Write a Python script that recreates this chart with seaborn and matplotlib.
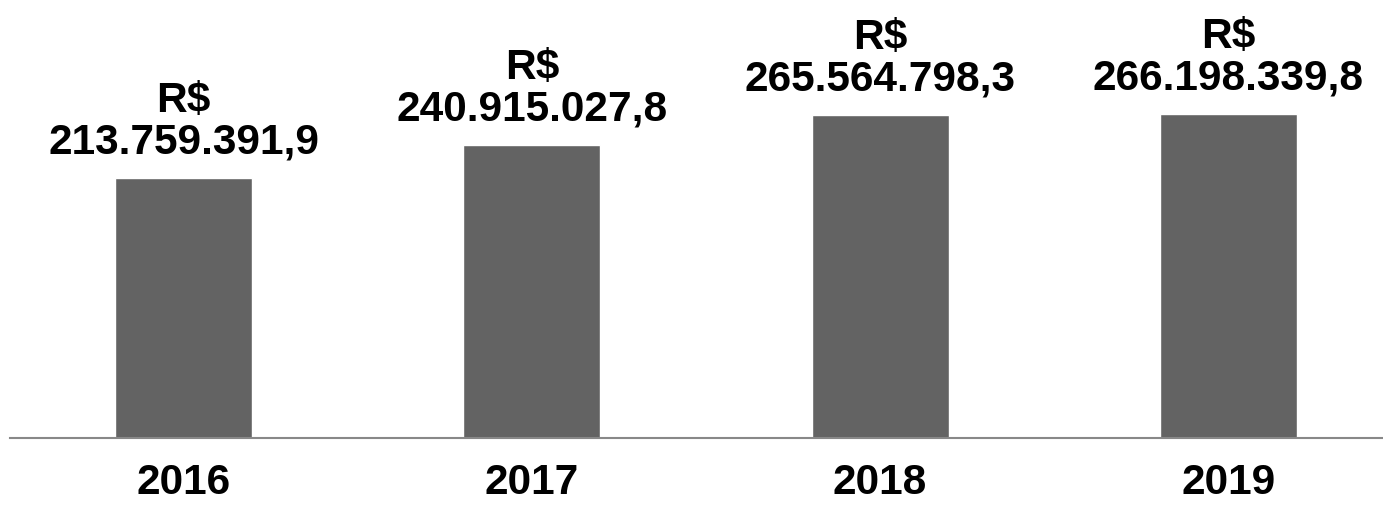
import matplotlib
matplotlib.use("Agg")
import matplotlib.pyplot as plt
import seaborn as sns
import pandas as pd

years = ["2016", "2017", "2018", "2019"]
values = [213759391.9, 240915027.8, 265564798.3, 266198339.8]
labels = ["R$\n213.759.391,9", "R$\n240.915.027,8", "R$\n265.564.798,3", "R$\n266.198.339,8"]

sns.set_theme(style="white")
plt.rcParams["font.family"] = ["Liberation Sans", "DejaVu Sans"]

df = pd.DataFrame({"ano": years, "valor": values})

fig = plt.figure(figsize=(13.83, 5.05), dpi=100)
ax = fig.add_axes([9.5 / 1383, 67 / 505, 1393 / 1383, 364 / 505])

sns.barplot(data=df, x="ano", y="valor", color="#636363", saturation=1,
            width=0.393, ax=ax)

ax.set_xlim(-0.5, 3.5)
ax.set_ylim(0, 299e6)

for i, (v, lab) in enumerate(zip(values, labels)):
    ax.annotate(lab, (i, v), xytext=(0, 11), textcoords="offset points",
                ha="center", va="bottom", fontsize=30.5, fontweight="bold",
                color="black", linespacing=1.05, annotation_clip=False)

for side in ["top", "right", "left"]:
    ax.spines[side].set_visible(False)
ax.spines["bottom"].set_color("#888888")
ax.spines["bottom"].set_linewidth(1.5)
ax.set_yticks([])
ax.set_xlabel("")
ax.set_ylabel("")
ax.tick_params(axis="x", length=0, pad=18)
for t in ax.get_xticklabels():
    t.set_fontsize(30.5)
    t.set_fontweight("bold")
    t.set_color("black")

fig.savefig("out.png", dpi=100)
